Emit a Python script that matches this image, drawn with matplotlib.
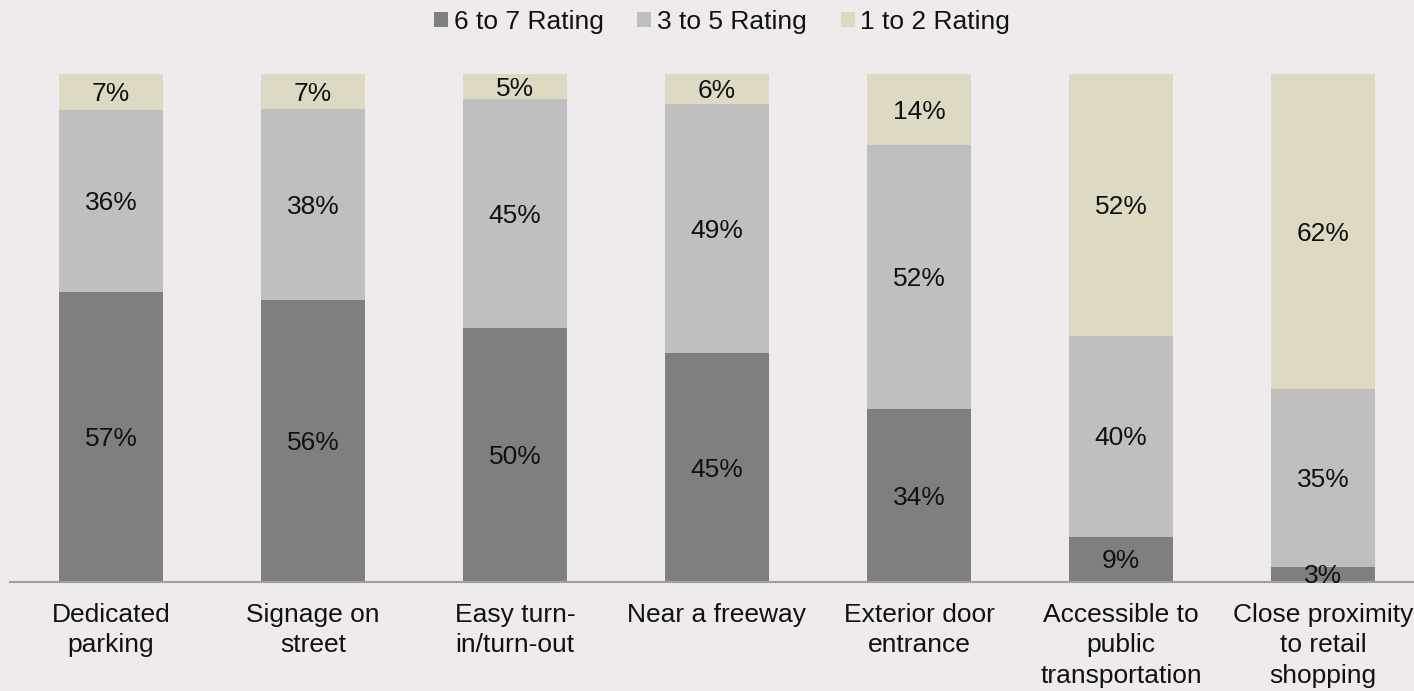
import matplotlib
matplotlib.use("Agg")
import matplotlib.pyplot as plt
import numpy as np

categories = ["Dedicated\nparking", "Signage on\nstreet", "Easy turn-\nin/turn-out",
              "Near a freeway", "Exterior door\nentrance", "Accessible to\npublic\ntransportation",
              "Close proximity\nto retail\nshopping"]
rating_6_7 = [57, 56, 50, 45, 34, 9, 3]
rating_3_5 = [36, 38, 45, 49, 52, 40, 35]
rating_1_2 = [7, 7, 5, 6, 14, 52, 62]
series_names = ["6 to 7 Rating", "3 to 5 Rating", "1 to 2 Rating"]
colors = ["#7F7F7F", "#BFBFBF", "#DDD9C3"]
bg = "#EFEBEC"

plt.rcParams['font.family'] = ['Liberation Sans', 'DejaVu Sans']

fig = plt.figure(figsize=(14.14, 6.91), dpi=100, facecolor=bg)
ax = fig.add_axes([10/1414, 109/691, 1414/1414, 508/691], facecolor=bg)

data = np.array([rating_6_7, rating_3_5, rating_1_2], dtype=float)
totals = data.sum(axis=0)
frac = data / totals
x = np.arange(len(categories))
bottom = np.zeros(len(categories))
for i in range(3):
    bars = ax.bar(x, frac[i], 0.51, bottom=bottom, color=colors[i], label=series_names[i], zorder=2)
    for j, b in enumerate(bars):
        ax.text(x[j], bottom[j] + frac[i][j] / 2 - 0.004, f"{int(data[i][j])}%", ha="center", va="center",
                fontsize=19, color="#111111", zorder=3)
    bottom += frac[i]

ax.set_xlim(-0.5, len(categories) - 0.5)
ax.set_ylim(0, 1)
ax.set_yticks([])
ax.set_xticks(x)
ax.set_xticklabels(categories, fontsize=19, color="#111111", linespacing=1.35)
ax.tick_params(axis="x", length=0, pad=15)
for s in ["top", "left", "right"]:
    ax.spines[s].set_visible(False)
ax.spines["bottom"].set_color("#A0A0A0")
ax.spines["bottom"].set_linewidth(1.5)

leg = fig.legend(loc="center", bbox_to_anchor=(722/1414, 1 - 22/691), ncol=3, frameon=False,
                 fontsize=19, handlelength=0.53, handleheight=0.53, handletextpad=0.2,
                 columnspacing=1.29, labelcolor="#111111")

fig.savefig("out.png", dpi=100, facecolor=bg)
